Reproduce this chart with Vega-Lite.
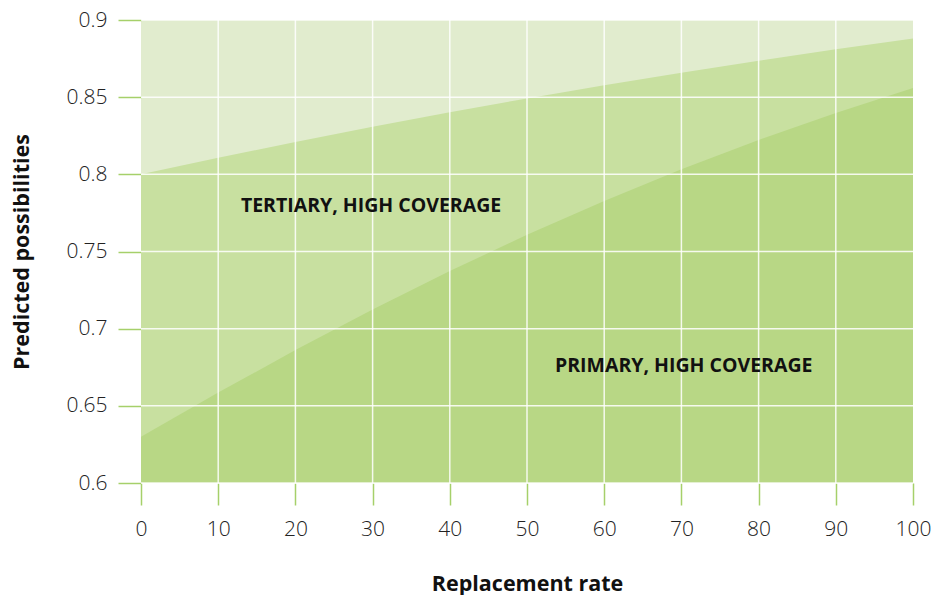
{
  "$schema": "https://vega.github.io/schema/vega-lite/v6.json",
  "width": 772,
  "height": 463,
  "autosize": "none",
  "padding": {"left": 141, "top": 20, "right": 19, "bottom": 112},
  "background": "white",
  "config": {
    "view": {"fill": "#e1ecce", "stroke": null},
    "font": "Open Sans"
  },
  "datasets": {
    "curves": [
      {"rate": 0, "series": "Tertiary", "p": 0.8000},
      {"rate": 10, "series": "Tertiary", "p": 0.8107},
      {"rate": 20, "series": "Tertiary", "p": 0.8210},
      {"rate": 30, "series": "Tertiary", "p": 0.8308},
      {"rate": 40, "series": "Tertiary", "p": 0.8402},
      {"rate": 50, "series": "Tertiary", "p": 0.8492},
      {"rate": 60, "series": "Tertiary", "p": 0.8577},
      {"rate": 70, "series": "Tertiary", "p": 0.8659},
      {"rate": 80, "series": "Tertiary", "p": 0.8736},
      {"rate": 90, "series": "Tertiary", "p": 0.8810},
      {"rate": 100, "series": "Tertiary", "p": 0.8880},
      {"rate": 0, "series": "Primary", "p": 0.6300},
      {"rate": 10, "series": "Primary", "p": 0.6586},
      {"rate": 20, "series": "Primary", "p": 0.6861},
      {"rate": 30, "series": "Primary", "p": 0.7124},
      {"rate": 40, "series": "Primary", "p": 0.7373},
      {"rate": 50, "series": "Primary", "p": 0.7608},
      {"rate": 60, "series": "Primary", "p": 0.7828},
      {"rate": 70, "series": "Primary", "p": 0.8033},
      {"rate": 80, "series": "Primary", "p": 0.8223},
      {"rate": 90, "series": "Primary", "p": 0.8398},
      {"rate": 100, "series": "Primary", "p": 0.8559}
    ],
    "xgrid": [
      {"rate": 10}, {"rate": 20}, {"rate": 30}, {"rate": 40}, {"rate": 50},
      {"rate": 60}, {"rate": 70}, {"rate": 80}, {"rate": 90}
    ],
    "ygrid": [
      {"p": 0.6}, {"p": 0.65}, {"p": 0.7}, {"p": 0.75}, {"p": 0.8}, {"p": 0.85}, {"p": 0.9}
    ],
    "labels": [
      {"rate": 29.8, "p": 0.7795, "text": "TERTIARY, HIGH COVERAGE"},
      {"rate": 70.3, "p": 0.6758, "text": "PRIMARY, HIGH COVERAGE"}
    ]
  },
  "layer": [
    {
      "data": {"name": "curves"},
      "transform": [{"filter": "datum.series === 'Tertiary'"}],
      "mark": {"type": "area", "color": "#c8e0a0", "opacity": 1},
      "encoding": {
        "x": {
          "field": "rate", "type": "quantitative",
          "scale": {"domain": [0, 100], "nice": false},
          "axis": {
            "title": "Replacement rate",
            "values": [0, 10, 20, 30, 40, 50, 60, 70, 80, 90, 100],
            "grid": false,
            "domain": false,
            "labelFlush": false,
            "labelOverlap": false,
            "tickColor": "#a6d06a", "tickSize": 22, "tickWidth": 1.5,
            "labelFontSize": 21, "labelColor": "#222222", "labelPadding": 13, "labelFontWeight": 300,
            "titleFontSize": 21.5, "titleFontWeight": "bold", "titleColor": "#111111", "titlePadding": 34
          }
        },
        "y": {
          "field": "p", "type": "quantitative",
          "scale": {"domain": [0.6, 0.9], "nice": false, "zero": false},
          "axis": {
            "title": "Predicted possibilities",
            "values": [0.6, 0.65, 0.7, 0.75, 0.8, 0.85, 0.9],
            "labelExpr": "format(datum.value, '.2~f')",
            "grid": false,
            "domain": false,
            "labelFlush": false,
            "labelOverlap": false,
            "tickColor": "#a6d06a", "tickSize": 23, "tickWidth": 1.5,
            "labelFontSize": 21, "labelColor": "#222222", "labelPadding": 11, "labelFontWeight": 300,
            "titleFontSize": 21.5, "titleFontWeight": "bold", "titleColor": "#111111", "titlePadding": 33
          }
        },
        "y2": {"datum": 0.6}
      }
    },
    {
      "data": {"name": "curves"},
      "transform": [{"filter": "datum.series === 'Primary'"}],
      "mark": {"type": "area", "color": "#b8d785", "opacity": 1},
      "encoding": {
        "x": {"field": "rate", "type": "quantitative"},
        "y": {"field": "p", "type": "quantitative"},
        "y2": {"datum": 0.6}
      }
    },
    {
      "data": {"name": "xgrid"},
      "mark": {"type": "rule", "color": "#ffffff", "strokeWidth": 1.5, "opacity": 0.85},
      "encoding": {"x": {"field": "rate", "type": "quantitative"}}
    },
    {
      "data": {"name": "ygrid"},
      "mark": {"type": "rule", "color": "#ffffff", "strokeWidth": 1.5, "opacity": 0.85},
      "encoding": {"y": {"field": "p", "type": "quantitative"}}
    },
    {
      "data": {"name": "labels"},
      "mark": {"type": "text", "fontSize": 19.5, "fontWeight": "bold", "color": "#111111", "align": "center", "baseline": "middle"},
      "encoding": {
        "x": {"field": "rate", "type": "quantitative"},
        "y": {"field": "p", "type": "quantitative"},
        "text": {"field": "text"}
      }
    }
  ]
}
